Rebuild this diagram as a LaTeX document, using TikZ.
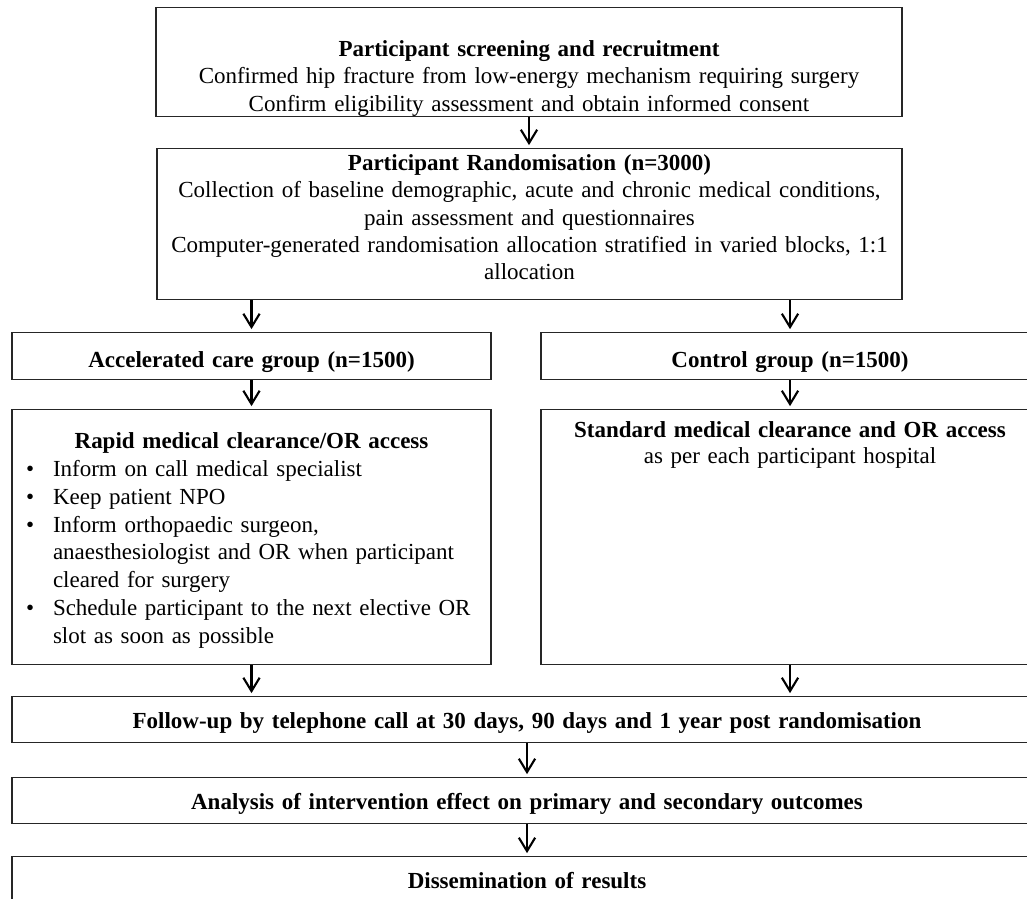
\documentclass[tikz,border=0pt]{standalone}
\usepackage{fontspec}
\setmainfont{Liberation Serif}
\usetikzlibrary{arrows.meta}

% bullet line with hanging indent
\newcommand\itembul{\par\noindent\hangindent=21.4pt\hangafter=1\hspace*{7.3pt}\makebox[14.1pt][l]{\textbullet}}

\begin{document}
\begin{tikzpicture}[x=0.522pt, y=-0.522pt,
    >={Straight Barb[length=7pt, width=8.5pt]},
    box/.style={draw=black!85, line width=0.6pt, inner xsep=0pt, inner ysep=0pt,
        anchor=north, align=center, font=\fontsize{12}{14.2}\selectfont},
    onebox/.style={box, text height=16.5pt, text depth=7.5pt},
    flow/.style={->, line width=1.1pt, shorten >=1.5pt}]
    \clip (0,0) rectangle (1027,898);

    % Screening and randomisation
    \node[box, text width=389.4pt, text height=25.6pt, text depth=31.3pt] (screen) at (529,7)
        {\textbf{Participant screening and recruitment}\\
         Confirmed hip fracture from low-energy mechanism requiring surgery\\
         Confirm eligibility assessment and obtain informed consent};
    \node[box, text width=388.9pt, text height=11.5pt, text depth=67.3pt] (rand) at (529.5,148)
        {\textbf{Participant Randomisation (n=3000)}\\
         Collection of baseline demographic, acute and chronic medical conditions,\\
         pain assessment and questionnaires\\
         Computer-generated randomisation allocation stratified in varied blocks, 1:1\\
         allocation};

    % Groups
    \node[box, text width=250pt, text height=18pt, text depth=6.5pt] (accel) at (251.5,332)
        {\textbf{Accelerated care group (n=1500)}};
    \node[box, text width=260pt, text height=18pt, text depth=6.5pt] (control) at (790,332)
        {\textbf{Control group (n=1500)}};

    % Interventions
    \node[box, align=left, font=\fontsize{12}{14.5}\selectfont,
          text width=250pt, text height=20.4pt, text depth=112.8pt] (rapid) at (251.5,409)
        {{\centering\bfseries Rapid medical clearance/OR access\par}
         \itembul Inform on call medical specialist
         \itembul Keep patient NPO
         \itembul Inform orthopaedic surgeon,\newline anaesthesiologist and OR when participant\newline cleared for surgery
         \itembul Schedule participant to the next elective OR\newline slot as soon as possible\par};
    \node[box, font=\fontsize{12}{13.6}\selectfont,
          text width=260pt, text height=14.6pt, text depth=118.5pt] (standard) at (790,409)
        {\textbf{Standard medical clearance and OR access}\\
         as per each participant hospital};

    % Follow-up to dissemination
    \node[onebox, text width=537.7pt] (followup) at (527,696)
        {\textbf{Follow-up by telephone call at 30 days, 90 days and 1 year post randomisation}};
    \node[onebox, text width=537.7pt] (analysis) at (527,777)
        {\textbf{Analysis of intervention effect on primary and secondary outcomes}};
    \node[onebox, text width=537.7pt] (dissem) at (527,856)
        {\textbf{Dissemination of results}};

    % Arrows
    \draw[flow] (screen.south) -- (screen.south |- rand.north);
    \draw[flow] (rand.south -| accel.north) -- (accel.north);
    \draw[flow] (rand.south -| control.north) -- (control.north);
    \draw[flow] (accel) -- (rapid);
    \draw[flow] (control) -- (standard);
    \draw[flow] (rapid.south) -- (rapid.south |- followup.north);
    \draw[flow] (standard.south) -- (standard.south |- followup.north);
    \draw[flow] (followup) -- (analysis);
    \draw[flow] (analysis) -- (dissem);
\end{tikzpicture}
\end{document}
